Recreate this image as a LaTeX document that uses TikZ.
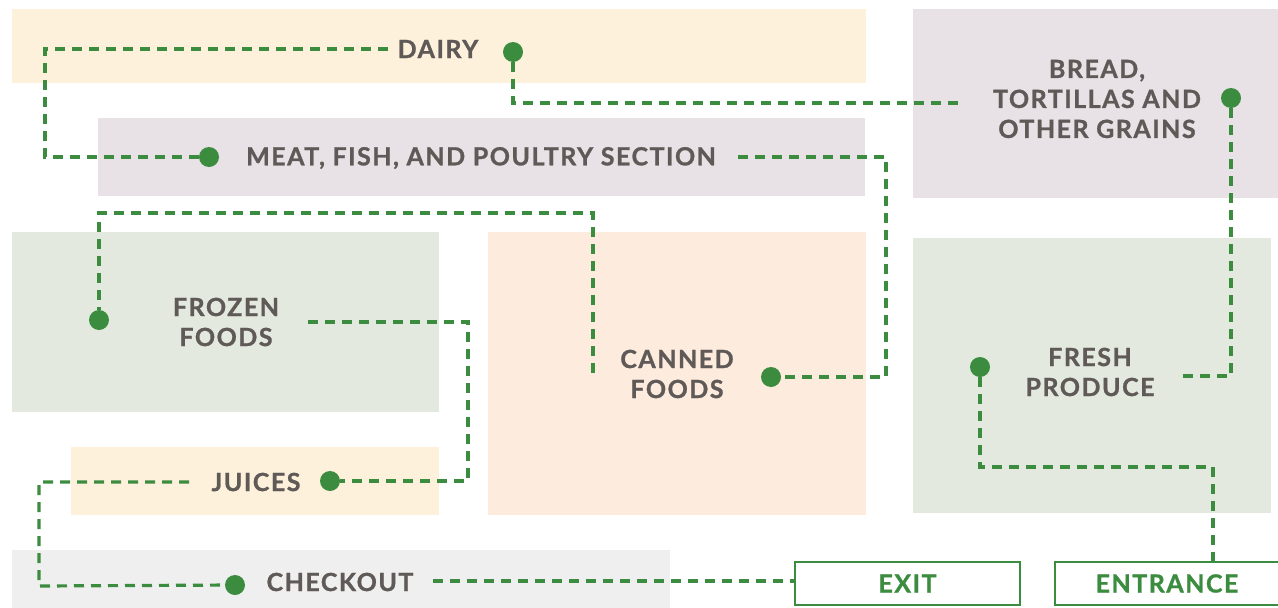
\documentclass[tikz,border=0pt]{standalone}
\usepackage{fontspec}
\setmainfont{Lato}[LetterSpace=6,FakeBold=1]
\definecolor{routegreen}{HTML}{3C8C40}
\definecolor{labelgray}{HTML}{5F5A57}
\definecolor{cream}{HTML}{FDF1DC}
\definecolor{mauve}{HTML}{E8E1E5}
\definecolor{sage}{HTML}{E3E9DF}
\definecolor{peach}{HTML}{FDEBDD}
\definecolor{lightgray}{HTML}{EFEFEF}
\begin{document}
\begin{tikzpicture}[x=1pt,y=-1pt,
  area/.style={draw=none,inner sep=0pt,outer sep=0pt,anchor=north west},
  lbl/.style={inner sep=0pt,text=labelgray,font=\fontsize{25}{30}\selectfont\bfseries,align=center},
  dot/.style={circle,fill=routegreen,inner sep=0pt,minimum size=20pt},
  route/.style={draw=routegreen,line width=3.2pt,dash pattern=on 10pt off 7pt},
  door/.style={draw=routegreen,line width=2.8pt,fill=white,inner sep=0pt,text=routegreen,font=\fontsize{25}{30}\selectfont\bfseries}]
\useasboundingbox (0,0) rectangle (1278,608);
% areas
\node[area,fill=cream,minimum width=854pt,minimum height=74pt] (dairyA) at (12,9) {};
\node[area,fill=mauve,minimum width=767pt,minimum height=78pt] (meatA) at (98,118) {};
\node[area,fill=mauve,minimum width=370pt,minimum height=189pt] (breadA) at (913,9) {};
\node[area,fill=sage,minimum width=427pt,minimum height=180pt] (frozenA) at (12,232) {};
\node[area,fill=peach,minimum width=378pt,minimum height=283pt] (cannedA) at (488,232) {};
\node[area,fill=sage,minimum width=358pt,minimum height=275pt] (freshA) at (913,238) {};
\node[area,fill=cream,minimum width=368pt,minimum height=68pt] (juicesA) at (71,447) {};
\node[area,fill=lightgray,minimum width=658pt,minimum height=60pt] (checkA) at (12,550) {};
% doors
\node[door,minimum width=225pt,minimum height=43pt] (exit) at (907.5,583.5) {EXIT};
\node[door,minimum width=224pt,minimum height=43pt] (entrance) at (1167,583.5) {ENTRANCE};
% labels
\node[lbl] (dairyT) at (438,49) {DAIRY};
\node[lbl] (breadT) at (1097,99) {BREAD,\\TORTILLAS AND\\OTHER GRAINS};
\node[lbl] (meatT) at (481,158) {MEAT, FISH, AND POULTRY SECTION};
\node[lbl] (frozenT) at (226,322) {FROZEN\\FOODS};
\node[lbl] (cannedT) at (677,374) {CANNED\\FOODS};
\node[lbl] (freshT) at (1090,372) {FRESH\\PRODUCE};
\node[lbl] (juicesT) at (256,482) {JUICES};
\node[lbl] (checkT) at (340,582) {CHECKOUT};
% connector ends
\coordinate (dairyL) at (388,49);
\coordinate (breadL) at (962,103);
\coordinate (freshR) at (1178,376);
\coordinate (meatR) at (738,157);
\coordinate (cannedL) at (593,373);
\coordinate (frozenR) at (308,322);
\coordinate (juicesL) at (189,482);
\coordinate (checkR) at (433,581);
\coordinate (entT) at (1213,562);
% dots
\node[dot] (dairyD) at (513,52) {};
\node[dot] (breadD) at (1231,98) {};
\node[dot] (meatD) at (209,157) {};
\node[dot] (frozenD) at (99,320) {};
\node[dot] (cannedD) at (771,377) {};
\node[dot] (freshD) at (980,367) {};
\node[dot] (juicesD) at (330,481) {};
\node[dot] (checkD) at (235,585) {};
% routes
\draw[route] (dairyL) -| (45,157) -- (meatD);
\draw[route] (dairyD) |- (breadL);
\draw[route] (breadD) |- (freshR);
\draw[route] (meatR) -| (886,377) -- (cannedD);
\draw[route] (cannedL) |- (99,213) -- (frozenD);
\draw[route] (frozenR) -| (468,481) -- (juicesD);
\draw[route] (juicesL) -| (39,586) -- (checkD);
\draw[route] (checkR) -- (checkR -| exit.west);
\draw[route] (freshD) |- (1213,467) -- (entT);
\end{tikzpicture}
\end{document}
